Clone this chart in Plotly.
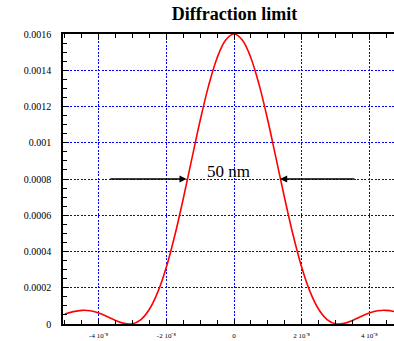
import plotly.graph_objects as go

# Intensity profile (x in metres, intensity in a.u.)
x_vals = [-5.0e-8, -4.75e-8, -4.5e-8, -4.25e-8, -4.0e-8, -3.75e-8, -3.5e-8, -3.25e-8,
          -3.0e-8, -2.75e-8, -2.5e-8, -2.25e-8, -2.0e-8, -1.75e-8, -1.5e-8, -1.25e-8,
          -1.0e-8, -0.75e-8, -0.5e-8, -0.25e-8, 0.0,
          0.25e-8, 0.5e-8, 0.75e-8, 1.0e-8, 1.25e-8, 1.5e-8, 1.75e-8, 2.0e-8,
          2.25e-8, 2.5e-8, 2.75e-8, 3.0e-8, 3.25e-8, 3.5e-8, 3.75e-8, 4.0e-8,
          4.25e-8, 4.5e-8, 4.75e-8, 5.0e-8]
y_vals = [0.0000553, 0.0000684, 0.0000752, 0.0000733, 0.0000610, 0.0000415, 0.0000197, 0.0000034,
          0.0000018, 0.0000246, 0.0000813, 0.000177, 0.000313, 0.000488, 0.000691, 0.000908,
          0.001123, 0.001315, 0.001468, 0.001566, 0.0016,
          0.001566, 0.001468, 0.001315, 0.001123, 0.000908, 0.000691, 0.000488, 0.000313,
          0.000177, 0.0000813, 0.0000246, 0.0000018, 0.0000034, 0.0000197, 0.0000415, 0.0000610,
          0.0000733, 0.0000752, 0.0000684, 0.0000553]

x_tickvals = [-4e-8, -2e-8, 0, 2e-8, 4e-8]
x_ticktext = ["-4 10\u207b\u2078", "-2 10\u207b\u2078", "0", "2 10\u207b\u2078", "4 10\u207b\u2078"]
y_tickvals = [0, 0.0002, 0.0004, 0.0006, 0.0008, 0.001, 0.0012, 0.0014, 0.0016]
y_ticktext = ["0", "0.0002", "0.0004", "0.0006", "0.0008", "0.001", "0.0012", "0.0014", "0.0016"]

title_text = "Diffraction limit"
label_text = "50 nm"
half_max = 0.0008
arrow_tails = [-3.70e-8, 3.60e-8]
arrow_tips = [-1.40e-8, 1.36e-8]

FONT = "Liberation Serif, Times New Roman, serif"
GRID = "#0000ff"
GRID_DASH = "2px,1.5px"

fig = go.Figure()
fig.add_trace(go.Scatter(x=x_vals, y=y_vals, mode="lines",
                         line=dict(color="#ff0000", width=1.6, shape="spline"),
                         showlegend=False, hoverinfo="skip"))

for tail, tip in zip(arrow_tails, arrow_tips):
    fig.add_annotation(x=tip, y=half_max, ax=tail, ay=half_max,
                       xref="x", yref="y", axref="x", ayref="y",
                       text="", showarrow=True, arrowhead=2, arrowsize=1.1,
                       arrowwidth=1.3, arrowcolor="black")

fig.add_annotation(x=-0.16e-8, y=0.00084, xref="x", yref="y", text=label_text,
                   showarrow=False, font=dict(family=FONT, size=17, color="black"),
                   xanchor="center", yanchor="middle")

fig.update_layout(
    width=394, height=341,
    margin=dict(l=63, r=0, t=34, b=17, pad=0),
    paper_bgcolor="white", plot_bgcolor="white",
    font=dict(family=FONT, color="black"),
    title=dict(text="<b>" + title_text + "</b>", x=0.595, xref="container", xanchor="center",
               y=0.96, yref="container", yanchor="middle",
               font=dict(family=FONT, size=18, color="black")),
)

fig.update_xaxes(range=[-5.053e-8, 4.728e-8], tickmode="array",
                 tickvals=x_tickvals, ticktext=x_ticktext,
                 tickfont=dict(family=FONT, size=7, color="black"),
                 showgrid=True, gridcolor=GRID, griddash=GRID_DASH, gridwidth=1,
                 zeroline=False, showline=True, linecolor="black", linewidth=1.5,
                 mirror="allticks", ticks="inside", ticklen=5, tickcolor="black",
                 minor=dict(dtick=0.5e-8, tick0=0, ticks="inside", ticklen=4,
                            tickcolor="black", showgrid=False),
                 ticklabelstandoff=4)

fig.update_yaxes(range=[0, 0.0016], tickmode="array",
                 tickvals=y_tickvals, ticktext=y_ticktext,
                 tickfont=dict(family=FONT, size=10, color="black"),
                 showgrid=True, gridcolor=GRID, griddash=GRID_DASH, gridwidth=1,
                 zeroline=False, showline=True, linecolor="black", linewidth=1.5,
                 mirror=False, ticks="inside", ticklen=5, tickcolor="black",
                 minor=dict(dtick=0.00005, tick0=0, ticks="inside", ticklen=4,
                            tickcolor="black", showgrid=False),
                 ticklabelstandoff=8)

fig.write_html("out.html")
